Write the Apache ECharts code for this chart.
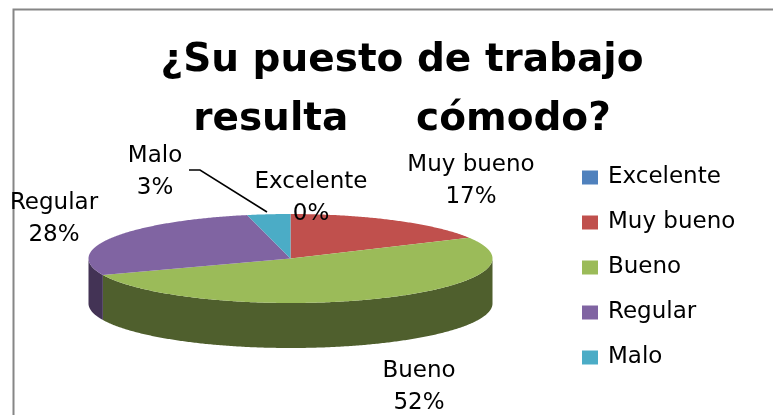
<!DOCTYPE html>
<html>
<head>
<meta charset="utf-8">
<style>html,body{margin:0;padding:0;background:#fff}#c{width:773px;height:415px}</style>
<script src="https://cdn.jsdelivr.net/npm/echarts@6/dist/echarts.min.js"></script>
</head>
<body>
<div id="c"></div>
<script>
const categories = ['Excelente', 'Muy bueno', 'Bueno', 'Regular', 'Malo'];
const values = [0, 5, 15, 8, 1];
const topColors = ['#4F81BD', '#C0504D', '#9BBB59', '#8064A2', '#4BACC6'];
const sideColors = ['#2A4A70', '#6F2B29', '#4F5F2D', '#433355', '#276475'];
const titleText = '¿Su puesto de trabajo\nresulta     cómodo?';

const total = values.reduce((a, b) => a + b, 0);
const pie = { cx: 290.5, cy: 258.5, rx: 202, ry: 44.5, depth: 45 };
const labelAt = [[311, 198], [471, 181], [419, 387], [54, 219], [155, 172]];
const rad = d => d * Math.PI / 180;
const pt = (deg, dy) => [pie.cx + pie.rx * Math.sin(rad(deg)), pie.cy - pie.ry * Math.cos(rad(deg)) + (dy || 0)];
function arc(a, b, dy) {
  const pts = [];
  const n = Math.max(2, Math.ceil(Math.abs(b - a) * 2));
  for (let i = 0; i <= n; i++) pts.push(pt(a + (b - a) * i / n, dy));
  return pts;
}
function startAngle(i) {
  return values.slice(0, i).reduce((a, b) => a + b, 0) / total * 360;
}
function sliceRender(i) {
  return function (params, api) {
    const v = api.value(0);
    const children = [];
    if (v <= 0) return { type: 'group', children };
    const a = startAngle(i), b = a + v / total * 360;
    const fa = Math.max(a, 90), fb = Math.min(b, 270);
    if (fb > fa) {
      children.push({
        type: 'polygon',
        shape: { points: arc(fa, fb, 0).concat(arc(fb, fa, pie.depth)) },
        style: { fill: sideColors[i] }
      });
    }
    children.push({
      type: 'polygon',
      shape: { points: [[pie.cx, pie.cy]].concat(arc(a, b, 0)) },
      style: { fill: topColors[i] }
    });
    return { type: 'group', children };
  };
}
const sliceSeries = categories.map((name, i) => ({
  type: 'custom',
  name,
  coordinateSystem: 'none',
  silent: true,
  itemStyle: { color: topColors[i] },
  data: [[values[i]]],
  renderItem: sliceRender(i)
}));
const labelSeries = {
  type: 'custom',
  name: 'etiquetas',
  coordinateSystem: 'none',
  silent: true,
  z: 5,
  data: values.map(v => [v]),
  renderItem: function (params, api) {
    const i = params.dataIndex;
    const pct = Math.round(api.value(0) / total * 100);
    const children = [{
      type: 'text',
      style: {
        x: labelAt[i][0], y: labelAt[i][1],
        text: categories[i] + '\n' + pct + '%',
        fill: '#000', align: 'center', verticalAlign: 'middle',
        font: '23px "DejaVu Sans"', lineHeight: 32
      }
    }];
    if (i === categories.length - 1) {
      children.push({
        type: 'polyline',
        shape: { points: [[189, 170], [200, 170], [267, 212]] },
        style: { stroke: '#000', lineWidth: 1.5, fill: null }
      });
    }
    return { type: 'group', children };
  }
};
const chart = echarts.init(document.getElementById('c'));
chart.setOption({
  animation: false,
  backgroundColor: '#fff',
  title: {
    text: titleText,
    left: 397, top: 26, textAlign: 'center',
    textStyle: { fontFamily: 'DejaVu Sans', fontWeight: 'bold', fontSize: 39, lineHeight: 59, color: '#000' }
  },
  legend: {
    data: categories,
    orient: 'vertical',
    left: 577, top: 161,
    icon: 'rect',
    itemWidth: 16, itemHeight: 14, itemGap: 22,
    textStyle: { fontFamily: 'DejaVu Sans', fontSize: 23, color: '#000', padding: [0, 0, 0, 5] },
    selectedMode: false
  },
  graphic: [{
    type: 'rect', silent: true,
    shape: { x: 13.5, y: 9.5, width: 800, height: 450 },
    style: { fill: null, stroke: '#868686', lineWidth: 2 }
  }],
  series: sliceSeries.concat([labelSeries])
});
</script>
</body>
</html>
